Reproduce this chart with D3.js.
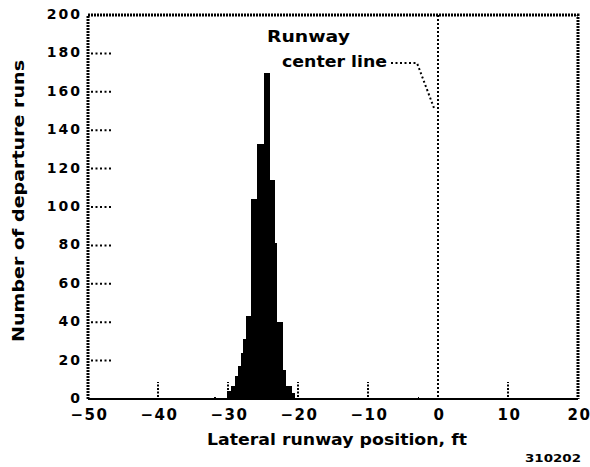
<!DOCTYPE html>
<html>
<head>
<meta charset="utf-8">
<script src="https://cdn.jsdelivr.net/npm/d3@7"></script>
<style>
  html, body { margin: 0; padding: 0; background: #fff; }
  svg { display: block; }
  text { font-family: "DejaVu Sans", "Liberation Sans", sans-serif; font-weight: bold; fill: #000; }
</style>
</head>
<body>
<svg id="chart" width="590" height="467"></svg>
<script>
// ---- data ----
const binStart = [-31.95, -30.1, -29.6, -28.95, -28.6, -28.2, -27.8, -27.45, -26.75, -25.9, -24.85, -24.0, -23.35, -23.0, -22.2, -21.65, -20.9, -2.9];
const binEnd   = [-31.7, -29.6, -28.95, -28.6, -28.2, -27.8, -27.45, -26.75, -25.9, -24.85, -24.0, -23.35, -23.0, -22.2, -21.65, -20.9, -20.5, -2.7];
const counts   = [1, 4, 7, 12, 17, 24, 31, 43, 104, 133, 170, 114, 81, 40, 15, 7, 3, 1];
const xTicks = [-50, -40, -30, -20, -10, 0, 10, 20];
const yTicks = [0, 20, 40, 60, 80, 100, 120, 140, 160, 180, 200];
const xLabel = "Lateral runway position, ft";
const yLabel = "Number of departure runs";
const annotation = ["Runway", "center line"];
const figId = "310202";

const svg = d3.select("#chart");
const x = d3.scaleLinear().domain([-50, 20]).range([88, 578]);
const y = d3.scaleLinear().domain([0, 200]).range([399, 15]);

// short grid stubs
const stubX = xTicks.filter(d => d !== -50 && d !== 0 && d !== 20);
svg.append("g").selectAll("line").data(stubX).join("line")
  .attr("x1", d => x(d)).attr("x2", d => x(d))
  .attr("y1", y(0) - 2).attr("y2", y(0) - 17)
  .attr("stroke", "#000").attr("stroke-width", 2).attr("stroke-dasharray", "2,1.5");
svg.append("g").selectAll("line").data(yTicks.filter(d => d !== 0 && d !== 200)).join("line")
  .attr("x1", x(-50) + 3).attr("x2", x(-50) + 24)
  .attr("y1", d => y(d)).attr("y2", d => y(d))
  .attr("stroke", "#000").attr("stroke-width", 2).attr("stroke-dasharray", "2,2.5");

// center line at 0
svg.append("line")
  .attr("x1", x(0)).attr("x2", x(0)).attr("y1", y(200)).attr("y2", y(0))
  .attr("stroke", "#000").attr("stroke-width", 2).attr("stroke-dasharray", "2,2");

// frame
svg.append("path")
  .attr("d", `M${x(-50)},${y(0)} V${y(200)} H${x(20)} V${y(0)}`)
  .attr("fill", "none").attr("stroke", "#000").attr("stroke-width", 3)
  .attr("stroke-dasharray", "2,1");
svg.append("line")
  .attr("x1", x(-50)).attr("x2", x(20)).attr("y1", y(0)).attr("y2", y(0))
  .attr("stroke", "#000").attr("stroke-width", 2);

// histogram
svg.append("g").selectAll("rect").data(counts).join("rect")
  .attr("x", (d, i) => x(binStart[i]))
  .attr("width", (d, i) => x(binEnd[i]) - x(binStart[i]))
  .attr("y", d => y(d))
  .attr("height", d => y(0) - y(d))
  .attr("fill", "#000")
  .attr("shape-rendering", "crispEdges");

// axes labels
const xAxis = d3.axisBottom(x).tickValues(xTicks).tickSize(0).tickPadding(0)
  .tickFormat(d => d3.format("d")(d).replace("-", "\u2212"));
const gx = svg.append("g").attr("transform", `translate(1,${y(0) + 10})`).call(xAxis);
gx.select(".domain").remove();
gx.selectAll("text").attr("dy", "0.75em").style("font-size", "15px")
  .style("letter-spacing", "1.5px")
  .style("font-family", "DejaVu Sans").style("font-weight", "bold");

const yAxis = d3.axisLeft(y).tickValues(yTicks).tickSize(0).tickPadding(0);
const gy = svg.append("g").attr("transform", `translate(${x(-50) - 6},-1)`).call(yAxis);
gy.select(".domain").remove();
gy.selectAll("text").style("font-size", "14px").style("letter-spacing", "2px")
  .style("font-family", "DejaVu Sans").style("font-weight", "bold");

svg.append("text").attr("x", 207).attr("y", 445)
  .attr("textLength", 260).attr("lengthAdjust", "spacingAndGlyphs")
  .style("font-size", "15px").text(xLabel);
svg.append("text").attr("transform", "translate(24,342) rotate(-90)")
  .attr("textLength", 282).attr("lengthAdjust", "spacingAndGlyphs")
  .style("font-size", "15px").text(yLabel);

svg.append("text").attr("x", 525).attr("y", 462)
  .attr("textLength", 56).attr("lengthAdjust", "spacingAndGlyphs")
  .style("font-size", "11px").text(figId);

// annotation
svg.append("text").attr("x", 267).attr("y", 42)
  .attr("textLength", 83).attr("lengthAdjust", "spacingAndGlyphs")
  .style("font-size", "15px").text(annotation[0]);
svg.append("text").attr("x", 282).attr("y", 67)
  .attr("textLength", 105).attr("lengthAdjust", "spacingAndGlyphs")
  .style("font-size", "15px").text(annotation[1]);
svg.append("path")
  .attr("d", `M391,${63} H417 L${x(0) - 4},${108}`)
  .attr("fill", "none").attr("stroke", "#000").attr("stroke-width", 2).attr("stroke-dasharray", "2,2.5");
</script>
</body>
</html>
